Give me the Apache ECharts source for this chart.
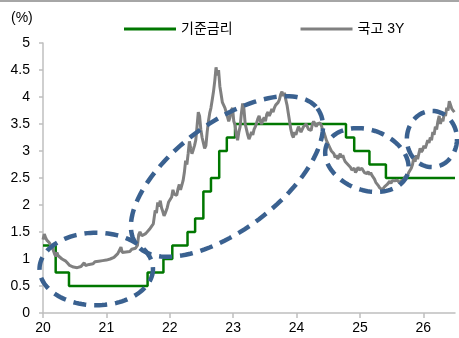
<!DOCTYPE html>
<html>
<head>
<meta charset="utf-8">
<script src="https://cdn.jsdelivr.net/npm/echarts@6/dist/echarts.min.js"></script>
<style>
html,body{margin:0;padding:0;background:#fff;}
#c{width:459px;height:338px;}
</style>
</head>
<body>
<div id="c"></div>
<script>
// ---- Data ----
const seriesNames = ['기준금리', '국고 3Y'];
const xTickLabels = ['20', '21', '22', '23', '24', '25', '26'];

// Base rate (step changes), x = year (20 = 2020 start)
const baseX = [20.00, 20.20, 20.41, 21.65, 21.90, 22.04, 22.28, 22.40, 22.53, 22.65, 22.78, 22.90, 23.03, 24.78, 24.91, 25.15, 25.41, 26.50];
const baseY = [1.25, 0.75, 0.50, 0.75, 1.00, 1.25, 1.50, 1.75, 2.25, 2.50, 3.00, 3.25, 3.50, 3.25, 3.00, 2.75, 2.50, 2.50];

// KTB 3Y yield
const ktbX = [
20.00,20.02,20.04,20.06,20.08,20.10,20.12,20.14,20.16,20.18,20.20,20.22,20.24,20.27,20.30,20.33,20.36,20.39,20.42,20.45,
20.48,20.51,20.54,20.57,20.60,20.63,20.65,20.67,20.70,20.73,20.76,20.79,20.82,20.85,20.88,20.91,20.94,20.97,21.00,21.03,
21.06,21.09,21.12,21.15,21.18,21.21,21.23,21.25,21.28,21.31,21.34,21.37,21.40,21.43,21.46,21.49,21.51,21.53,21.56,21.59,
21.62,21.65,21.68,21.71,21.74,21.77,21.79,21.81,21.83,21.85,21.87,21.89,21.91,21.93,21.96,21.98,22.00,22.03,22.05,22.07,
22.09,22.11,22.13,22.15,22.17,22.19,22.21,22.23,22.25,22.27,22.29,22.31,22.33,22.35,22.37,22.39,22.41,22.43,22.45,22.47,
22.49,22.51,22.53,22.55,22.57,22.59,22.61,22.63,22.65,22.67,22.69,22.71,22.73,22.75,22.77,22.79,22.81,22.83,22.85,22.87,
22.89,22.91,22.93,22.95,22.97,22.99,23.01,23.03,23.05,23.07,23.09,23.11,23.13,23.15,23.17,23.19,23.21,23.23,23.25,23.27,
23.29,23.31,23.33,23.35,23.37,23.39,23.41,23.43,23.45,23.47,23.49,23.51,23.53,23.55,23.57,23.59,23.61,23.63,23.65,23.67,
23.69,23.71,23.73,23.75,23.77,23.79,23.81,23.83,23.85,23.87,23.89,23.91,23.93,23.95,23.97,23.99,24.01,24.03,24.05,24.07,
24.09,24.11,24.13,24.15,24.17,24.19,24.21,24.23,24.25,24.27,24.29,24.31,24.33,24.35,24.37,24.39,24.41,24.43,24.45,24.47,
24.49,24.51,24.53,24.55,24.57,24.59,24.61,24.63,24.65,24.67,24.69,24.71,24.73,24.75,24.77,24.79,24.81,24.83,24.85,24.87,
24.89,24.91,24.93,24.95,24.97,24.99,25.01,25.03,25.05,25.07,25.09,25.11,25.13,25.15,25.17,25.19,25.21,25.23,25.25,25.27,
25.29,25.31,25.33,25.35,25.37,25.39,25.41,25.43,25.45,25.47,25.49,25.51,25.53,25.55,25.57,25.59,25.61,25.63,25.65,25.67,
25.69,25.71,25.73,25.75,25.77,25.79,25.81,25.83,25.85,25.87,25.89,25.91,25.93,25.95,25.97,25.99,26.01,26.03,26.05,26.07,
26.09,26.11,26.13,26.15,26.17,26.19,26.21,26.23,26.25,26.27,26.29,26.31,26.33,26.35,26.37,26.39,26.41,26.43,26.45,26.47,
26.49];
const ktbY = [
1.36,1.46,1.40,1.35,1.38,1.30,1.27,1.22,1.17,1.10,1.05,1.12,1.06,1.03,1.00,1.02,0.96,0.92,0.88,0.86,
0.85,0.82,0.84,0.81,0.86,0.84,0.93,0.88,0.87,0.90,0.92,0.91,0.95,0.93,0.96,0.95,0.97,0.96,0.98,0.97,
1.00,0.99,1.03,1.02,1.10,1.13,1.22,1.12,1.15,1.13,1.16,1.14,1.18,1.16,1.20,1.25,1.45,1.50,1.43,1.41,
1.47,1.44,1.55,1.52,1.65,1.90,1.85,2.05,1.97,2.08,1.95,1.88,1.80,1.85,1.95,2.05,2.08,2.15,2.28,2.20,
2.22,2.18,2.30,2.38,2.28,2.25,2.45,2.60,2.82,2.75,2.95,3.18,3.05,2.95,3.02,3.10,3.20,3.45,3.72,3.65,
3.40,3.25,3.15,3.05,3.10,3.35,3.55,3.70,3.80,3.95,4.10,4.30,4.55,4.40,4.50,4.20,4.05,3.90,3.85,3.80,
3.72,3.70,3.55,3.62,3.75,3.80,3.55,3.48,3.30,3.20,3.35,3.45,3.70,3.88,3.78,3.50,3.40,3.30,3.22,3.28,
3.35,3.30,3.40,3.45,3.52,3.60,3.65,3.55,3.50,3.58,3.62,3.55,3.68,3.72,3.65,3.70,3.78,3.72,3.80,3.85,
3.82,3.90,3.95,4.05,4.10,4.02,4.08,3.95,3.85,3.70,3.55,3.40,3.30,3.25,3.35,3.30,3.38,3.45,3.40,3.35,
3.40,3.45,3.42,3.50,3.45,3.40,3.42,3.38,3.50,3.55,3.50,3.45,3.50,3.48,3.52,3.48,3.40,3.35,3.28,3.20,
3.15,3.12,3.05,3.00,3.02,2.95,2.88,2.92,2.85,2.90,2.95,2.88,2.92,2.85,2.80,2.82,2.75,2.78,2.70,2.65,
2.62,2.68,2.60,2.64,2.70,2.65,2.62,2.68,2.65,2.60,2.62,2.58,2.62,2.56,2.60,2.55,2.52,2.48,2.42,2.40,
2.36,2.32,2.30,2.28,2.30,2.34,2.32,2.38,2.40,2.44,2.40,2.45,2.43,2.45,2.42,2.46,2.44,2.40,2.45,2.48,
2.46,2.52,2.50,2.55,2.60,2.58,2.68,2.75,2.88,2.80,2.92,2.85,2.95,3.05,2.98,3.02,3.10,3.05,3.12,3.20,
3.15,3.25,3.20,3.35,3.30,3.45,3.40,3.55,3.65,3.50,3.60,3.55,3.70,3.65,3.80,3.75,3.92,3.85,3.78,3.80,
3.72];

// Dashed ellipse annotations (data coords): centre, end of major semi-axis, axis ratio
const ringCX = [20.84, 22.902, 25.11, 26.136];
const ringCY = [0.815, 2.528, 2.833, 3.222];
const ringEX = [21.735, 24.330, 25.748, 26.5315];
const ringEY = [0.815, 3.787, 2.561, 3.222];
const ringRatio = [0.64, 0.472, 0.70, 1.12];

// ---- Build ----
const baseData = baseX.map((x, i) => [x, baseY[i]]);
const ktbData = ktbX.map((x, i) => [x, ktbY[i]]);
const ringData = ringCX.map((x, i) => [x, ringCY[i], ringEX[i], ringEY[i], ringRatio[i]]);

const FONT = '"Liberation Sans", Arial, "Noto Sans CJK KR", sans-serif';
const chart = echarts.init(document.getElementById('c'), null, {renderer: 'canvas'});

chart.setOption({
  animation: false,
  backgroundColor: '#ffffff',
  textStyle: {fontFamily: FONT},
  grid: {left: 43, right: 4, top: 43, bottom: 25, containLabel: false},
  legend: {
    data: seriesNames,
    left: 119, top: 17,
    icon: 'rect', itemWidth: 52, itemHeight: 3, itemGap: 68,
    textStyle: {fontSize: 14, color: '#000', fontFamily: '"Liberation Sans", "Noto Sans CJK KR", sans-serif'}
  },
  graphic: [
    {type: 'rect', left: 0, top: 0, shape: {width: 459, height: 2}, style: {fill: '#a6a6a6'}},
    {type: 'text', left: 11, top: 11, style: {text: '(%)', fill: '#000', font: '14px ' + FONT}}
  ],
  xAxis: {
    type: 'value', min: 20, max: 26.5, interval: 1,
    axisLine: {lineStyle: {color: '#bfbfbf', width: 1.5}},
    axisTick: {show: true, length: 5, lineStyle: {color: '#bfbfbf', width: 1.5}},
    splitLine: {show: false},
    axisLabel: {
      fontSize: 14, color: '#000', margin: 8,
      formatter: v => { const i = Math.round(v - 20); return (Math.abs(v - Math.round(v)) < 1e-6 && xTickLabels[i] !== undefined) ? xTickLabels[i] : ''; },
      showMaxLabel: false
    }
  },
  yAxis: {
    type: 'value', min: 0, max: 5, interval: 0.5,
    axisLine: {show: true, lineStyle: {color: '#bfbfbf', width: 1.5}},
    axisTick: {show: true, length: 4, lineStyle: {color: '#bfbfbf', width: 1.5}},
    splitLine: {show: false},
    axisLabel: {fontSize: 14, color: '#000', margin: 13}
  },
  series: [
    {
      name: seriesNames[0], type: 'line', step: 'end', data: baseData,
      symbol: 'none', color: '#007700',
      lineStyle: {color: '#007700', width: 2.5}, z: 2
    },
    {
      name: seriesNames[1], type: 'line', data: ktbData,
      symbol: 'none', color: '#808080',
      lineStyle: {color: '#808080', width: 3}, z: 3
    },
    {
      type: 'custom', name: 'rings', data: ringData, silent: true, clip: false, z: 5,
      encode: {x: [0, 2], y: [1, 3]},
      renderItem: function (params, api) {
        const c = api.coord([api.value(0), api.value(1)]);
        const e = api.coord([api.value(2), api.value(3)]);
        const dx = e[0] - c[0], dy = e[1] - c[1];
        const a = Math.sqrt(dx * dx + dy * dy);
        const th = Math.atan2(dy, dx);
        const b = a * api.value(4);
        const pts = [];
        const N = 120;
        for (let k = 0; k < N; k++) {
          const t = (k / N) * Math.PI * 2;
          const ct = Math.cos(t), st = Math.sin(t);
          pts.push([
            c[0] + a * ct * Math.cos(th) - b * st * Math.sin(th),
            c[1] + a * ct * Math.sin(th) + b * st * Math.cos(th)
          ]);
        }
        return {
          type: 'polygon', shape: {points: pts},
          style: {fill: 'none', stroke: '#3a6190', lineWidth: 4.5, lineDash: [13, 8]}
        };
      }
    }
  ]
});
</script>
</body>
</html>
